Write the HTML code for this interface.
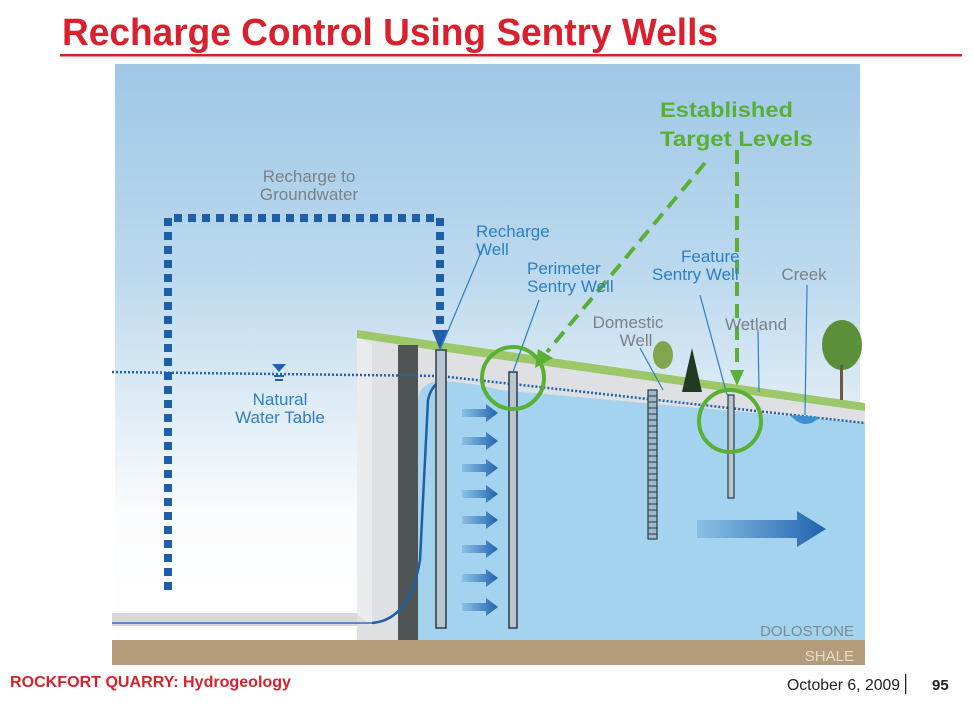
<!DOCTYPE html>
<html><head><meta charset="utf-8"><style>
html,body{margin:0;padding:0;background:#fff;}
svg{display:block;font-family:"Liberation Sans",sans-serif;}
</style></head><body>
<svg width="973" height="712" viewBox="0 0 973 712" xmlns="http://www.w3.org/2000/svg">
<defs>
<linearGradient id="sky" x1="0" y1="0" x2="0" y2="1">
<stop offset="0" stop-color="#9fc8e6"/><stop offset="0.35" stop-color="#bcd9ee"/><stop offset="0.6" stop-color="#e4eff7"/><stop offset="0.75" stop-color="#fbfcfd"/><stop offset="1" stop-color="#ffffff"/>
</linearGradient>
<linearGradient id="arr" x1="0" y1="0" x2="1" y2="0">
<stop offset="0" stop-color="#2a6fb8" stop-opacity="0.2"/><stop offset="1" stop-color="#1f62ad"/>
</linearGradient>
</defs>
<text x="62" y="45" font-size="38" font-weight="bold" fill="#d9202c" textLength="656" lengthAdjust="spacingAndGlyphs">Recharge Control Using Sentry Wells</text>
<rect x="60" y="54" width="902" height="2.5" fill="#d9202c"/>

<!-- sky -->
<rect x="115" y="64" width="745" height="600" fill="url(#sky)"/>
<!-- pit floor -->
<polygon points="112,613 360,613 372,626 112,626" fill="#d6d8da"/>
<!-- ground (above water) -->
<polygon points="357,338 440,350 865,410 865,640 357,640" fill="#dfe0e3"/>
<polygon points="357,338 372,344 372,626 357,614" fill="#ebeced"/>
<!-- water -->
<path d="M418,640 L418,400 Q420,382 440,381 Q470,382 500,390 L865,423 L865,640 Z" fill="#a3d3ee"/>
<!-- grass -->
<polygon points="357,338 357,330 440,342 600,365 865,403 865,411 440,351" fill="#9cc86a"/>
<!-- grout curtain -->
<rect x="398" y="345" width="20" height="315" fill="#4f5554"/>
<!-- shale -->
<rect x="112" y="640" width="753" height="25" fill="#b59c7b"/>
<text x="854" y="636" font-size="15" fill="#7d8a94" text-anchor="end">DOLOSTONE</text>
<text x="854" y="661" font-size="15" fill="#e6dccd" text-anchor="end">SHALE</text>
<!-- pit water line -->
<path d="M112,623 L372,623" stroke="#2a6fb8" stroke-width="1.5"/>
<path d="M372,623 Q410,620 420,560 L428,400 Q432,382 445,381" stroke="#1f5fa8" stroke-width="2.5" fill="none"/>
<!-- water table dotted -->
<path d="M112,372 L440,376 L865,423" stroke="#1f62ad" stroke-width="2.5" stroke-dasharray="2,2" fill="none"/>
<!-- wells -->
<rect x="436" y="350" width="10" height="278" fill="#b9c6cf" stroke="#2c3a45" stroke-width="1.5"/>
<rect x="509" y="372" width="8" height="256" fill="#b9c6cf" stroke="#2c3a45" stroke-width="1.5"/>
<rect x="648" y="390" width="9" height="149" fill="#9cb8c9" stroke="#2c3a45" stroke-width="1.2"/>
<path d="M648,396 h9 M648,402 h9 M648,408 h9 M648,414 h9 M648,420 h9 M648,426 h9 M648,432 h9 M648,438 h9 M648,444 h9 M648,450 h9 M648,456 h9 M648,462 h9 M648,468 h9 M648,474 h9 M648,480 h9 M648,486 h9 M648,492 h9 M648,498 h9 M648,504 h9 M648,510 h9 M648,516 h9 M648,522 h9 M648,528 h9 M648,534 h9" stroke="#2c3a45" stroke-width="1"/>
<rect x="728" y="395" width="6" height="103" fill="#b9c6cf" stroke="#2c3a45" stroke-width="1.2"/>
<!-- creek -->
<path d="M790,415 Q805,432 820,417 Z" fill="#3f8fd0"/>
<!-- trees -->
<ellipse cx="663" cy="355" rx="10" ry="14" fill="#7fa64a"/>
<polygon points="692,348 682,392 702,392" fill="#1f3b22"/>
<ellipse cx="842" cy="345" rx="20" ry="25" fill="#5b8f3a"/>
<rect x="840" y="365" width="3" height="35" fill="#6b5a44"/>
<!-- horizontal arrows -->
<g fill="url(#arr)">
<polygon points="462,409 486,409 486,404 498,413 486,422 486,417 462,417"/>
<polygon points="462,437 486,437 486,432 498,441 486,450 486,445 462,445"/>
<polygon points="462,464 486,464 486,459 498,468 486,477 486,472 462,472"/>
<polygon points="462,490 486,490 486,485 498,494 486,503 486,498 462,498"/>
<polygon points="462,516 486,516 486,511 498,520 486,529 486,524 462,524"/>
<polygon points="462,545 486,545 486,540 498,549 486,558 486,553 462,553"/>
<polygon points="462,574 486,574 486,569 498,578 486,587 486,582 462,582"/>
<polygon points="462,603 486,603 486,598 498,607 486,616 486,611 462,611"/>
<polygon points="697,520 797,520 797,511 826,529 797,547 797,538 697,538"/>
</g>
<!-- dashed recharge path -->
<path d="M168,590 L168,218 L440,218 L440,332" stroke="#1f5fa8" stroke-width="8" stroke-dasharray="8,6" fill="none"/>
<polygon points="432,330 448,330 440,350" fill="#1f5fa8"/>
<!-- water table symbol -->
<polygon points="272,364 286,364 279,372" fill="#1f62ad"/>
<path d="M274,376 h10 M275,380 h8" stroke="#1f62ad" stroke-width="2"/>
<!-- leader lines -->
<path d="M440,350 L484,245 M513,372 L539,300 M727,395 L700,295 M759,392 L758,330 M805,415 L807,285 M663,390 L640,348" stroke="#2c7fc7" stroke-width="1.2" fill="none"/>
<!-- green -->
<g stroke="#5ab034" stroke-width="4" fill="none">
<circle cx="513" cy="378" r="31"/>
<circle cx="730" cy="421" r="31"/>
<path d="M705,163 L547,352" stroke-dasharray="14,8"/>
<path d="M737,150 L737,372" stroke-dasharray="14,8"/>
</g>
<polygon points="538,349 553,358 535,368" fill="#5ab034"/>
<polygon points="730,370 744,370 737,386" fill="#5ab034"/>
<!-- labels -->
<g font-size="21" font-weight="bold" fill="#5ab034">
<text x="660" y="117" textLength="133" lengthAdjust="spacingAndGlyphs">Established</text>
<text x="660" y="146" textLength="153" lengthAdjust="spacingAndGlyphs">Target Levels</text>
</g>
<g font-size="17" fill="#7a8288" text-anchor="middle">
<text x="309" y="182">Recharge to</text>
<text x="309" y="200">Groundwater</text>
<text x="628" y="328">Domestic</text>
<text x="636" y="346">Well</text>
<text x="756" y="330">Wetland</text>
<text x="804" y="280">Creek</text>
</g>
<g font-size="17" fill="#2c7fc7">
<text x="476" y="237">Recharge</text>
<text x="476" y="255">Well</text>
<text x="527" y="274">Perimeter</text>
<text x="527" y="292">Sentry Well</text>
<text x="681" y="262">Feature</text>
<text x="652" y="280">Sentry Well</text>
<text x="280" y="405" text-anchor="middle">Natural</text>
<text x="280" y="423" text-anchor="middle">Water Table</text>
</g>
<!-- footer -->
<text x="10" y="687" font-size="16" font-weight="bold" fill="#d9202c" textLength="281" lengthAdjust="spacingAndGlyphs">ROCKFORT QUARRY: Hydrogeology</text>
<text x="787" y="690" font-size="16" fill="#222" textLength="113" lengthAdjust="spacingAndGlyphs">October 6, 2009</text>
<rect x="905" y="674" width="1.3" height="20" fill="#222"/>
<text x="932" y="690" font-size="15" font-weight="bold" fill="#222">95</text>
</svg>
</body></html>
